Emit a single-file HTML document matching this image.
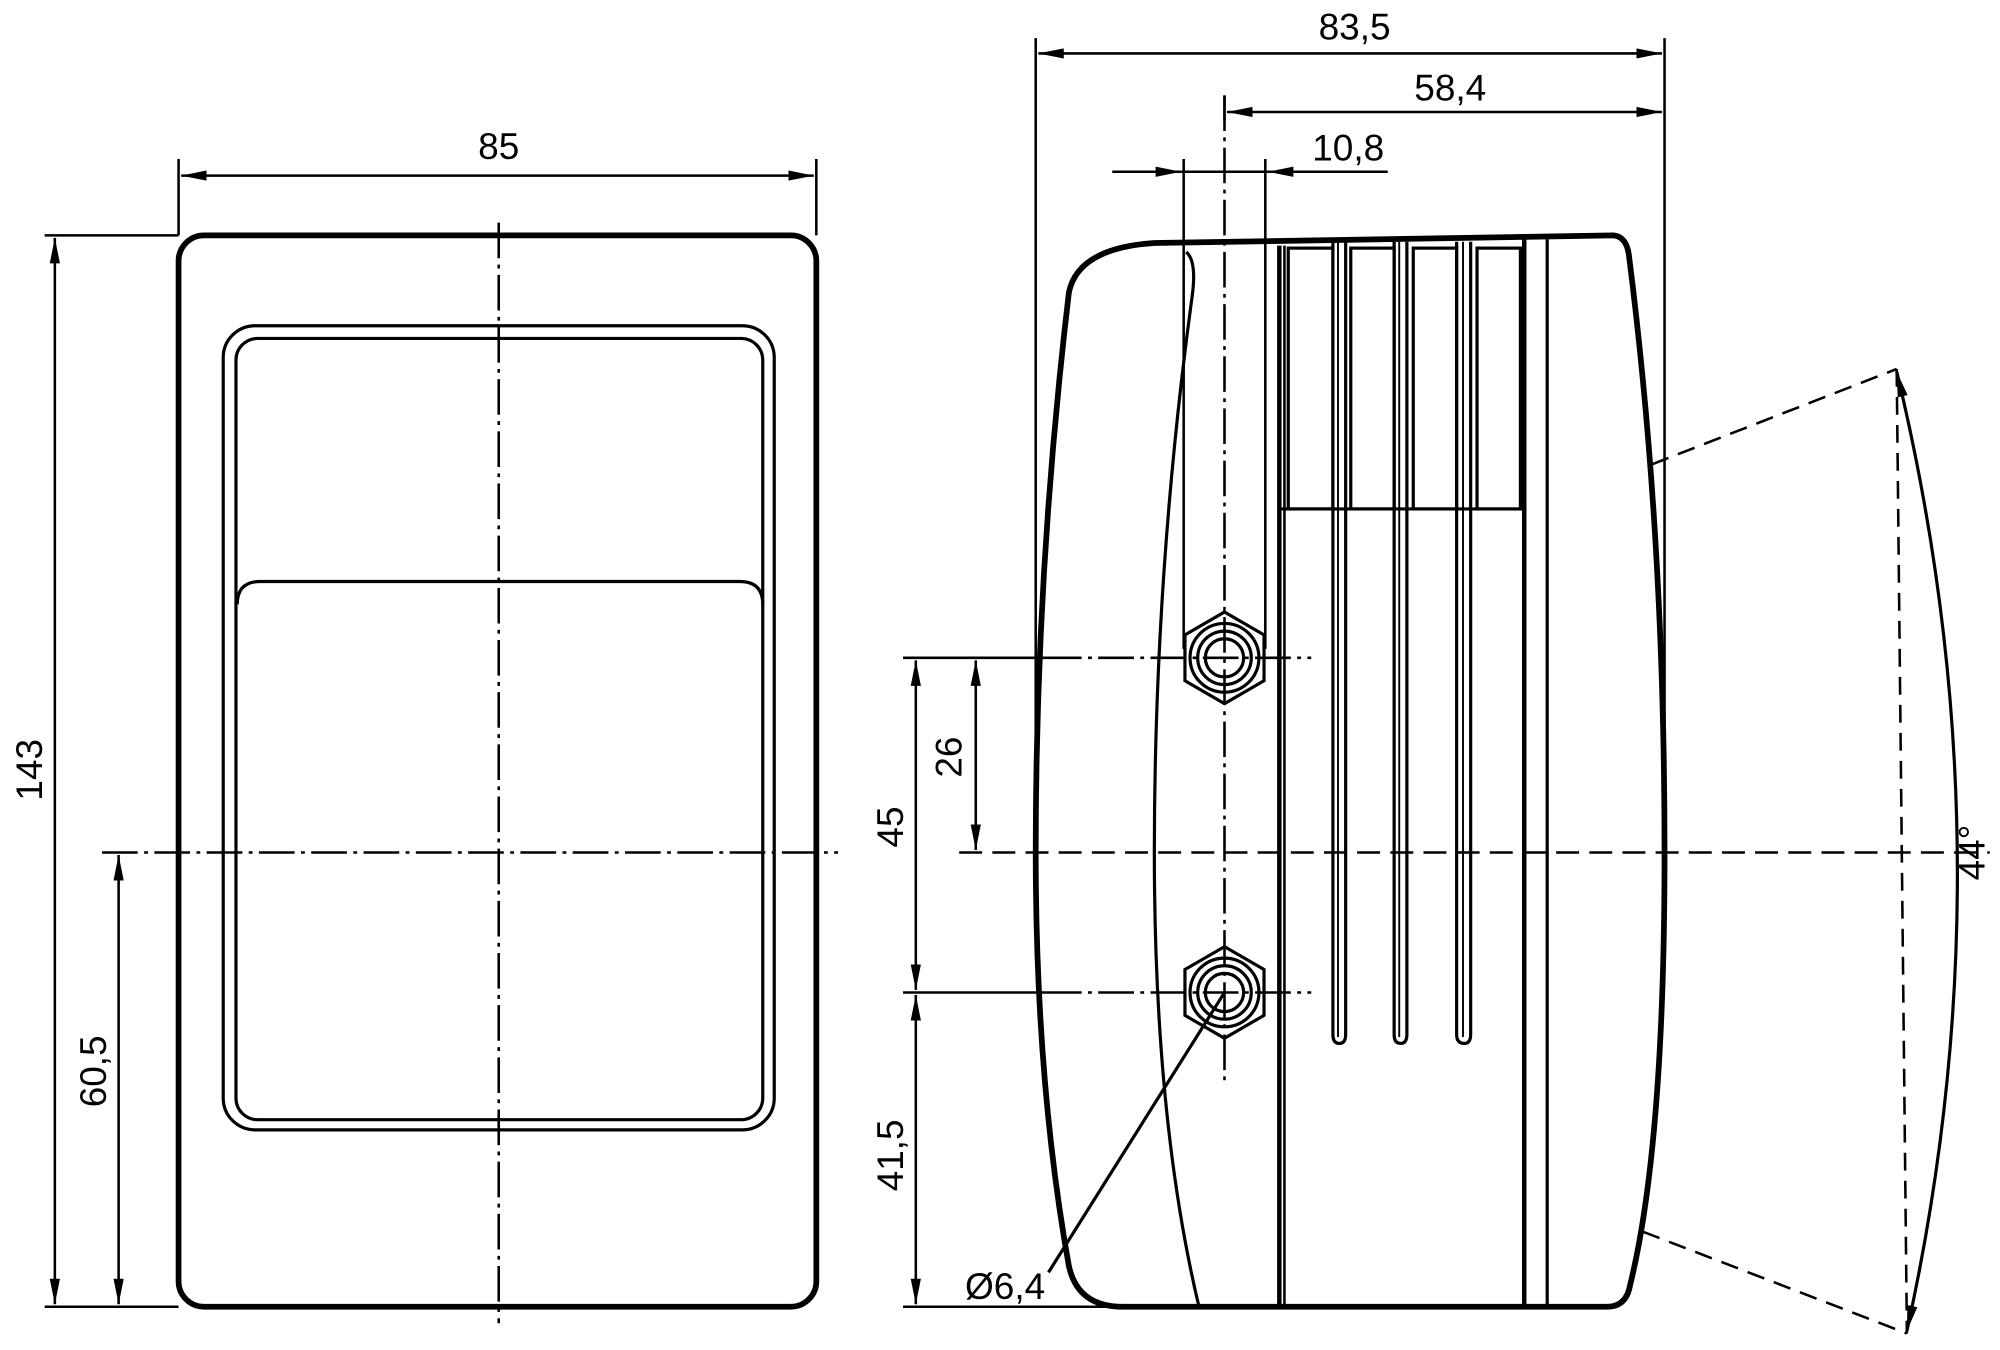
<!DOCTYPE html>
<html><head><meta charset="utf-8"><style>html,body{margin:0;padding:0;background:#fff}svg{display:block}</style></head><body>
<svg width="2000" height="1350" viewBox="0 0 1568 1061" preserveAspectRatio="none" xmlns="http://www.w3.org/2000/svg" font-family="Liberation Sans, Arial, sans-serif">
<defs>
<marker id="a" viewBox="0 0 20 8" refX="20" refY="4" markerWidth="20" markerHeight="8" markerUnits="userSpaceOnUse" orient="auto-start-reverse"><path d="M0,0 L20,4 L0,8 z" fill="#000"/></marker>
</defs>
<g fill="none" stroke="#000">
<!-- LEFT VIEW -->
<rect x="140" y="185" width="500" height="842" rx="20" stroke-width="4.5"/>
<rect x="175" y="256" width="432" height="632" rx="25" stroke-width="2.5"/>
<rect x="185" y="266" width="413" height="614" rx="17" stroke-width="2.5"/>
<path d="M186,475 Q186,457 204,457 L580,457 Q598,457 598,475" stroke-width="2.5"/>
<g stroke-width="2" stroke-dasharray="28,5,3,5">
<line x1="391" y1="175" x2="391" y2="1040"/>
<line x1="80" y1="670" x2="657" y2="670"/>
</g>
<g stroke-width="2">
<line x1="140" y1="125" x2="140" y2="185"/><line x1="640" y1="125" x2="640" y2="185"/>
<line x1="142" y1="138" x2="638" y2="138" marker-start="url(#a)" marker-end="url(#a)"/>
<line x1="35" y1="185" x2="140" y2="185"/><line x1="35" y1="1027" x2="140" y2="1027"/>
<line x1="43" y1="187" x2="43" y2="1025" marker-start="url(#a)" marker-end="url(#a)"/>
<line x1="93" y1="672" x2="93" y2="1025" marker-start="url(#a)" marker-end="url(#a)"/>
</g>
<!-- RIGHT VIEW body -->
<path d="M905,191 L1265,185 Q1275,186 1277,200 Q1305,420 1305,670 Q1305,900 1278,1010 Q1275,1027 1260,1027 L880,1027 Q845,1027 838,995 Q812,850 812,670 Q812,450 838,230 Q845,195 905,191 Z" stroke-width="4.5"/>
<path d="M930,198 Q938,205 935,230 Q905,450 905,670 Q905,880 940,1027" stroke-width="2.5"/>
<line x1="1003" y1="193" x2="1003" y2="1027" stroke-width="3.5"/>
<line x1="1007" y1="193" x2="1007" y2="1027" stroke-width="2"/>
<line x1="1213" y1="188" x2="1213" y2="1027" stroke-width="2.5"/>
<line x1="1195" y1="188" x2="1195" y2="1027" stroke-width="3.5"/>
<g stroke-width="2.5">
<rect x="1010" y="195" width="35" height="205"/>
<rect x="1059" y="195" width="34" height="205"/>
<rect x="1108" y="195" width="34" height="205"/>
<rect x="1158" y="195" width="34" height="205"/>
<line x1="1003" y1="400" x2="1195" y2="400"/>
<path d="M1045,190 L1045,813 Q1045,820 1050,820 Q1055,820 1055,813 L1055,190"/>
<path d="M1093,190 L1093,813 Q1093,820 1098,820 Q1103,820 1103,813 L1103,190"/>
<path d="M1142,190 L1142,813 Q1142,820 1148,820 Q1153,820 1153,813 L1153,190"/>
<path d="M1049,190 L1049,815 M1097,190 L1097,815 M1147,190 L1147,815" stroke-width="1.5"/>
</g>
<!-- nuts -->
<g stroke-width="2.5">
<polygon points="960,481 991,499 991,535 960,553 929,535 929,499"/>
<circle cx="960" cy="517" r="27"/><circle cx="960" cy="517" r="21"/><circle cx="960" cy="517" r="15"/>
<polygon points="960,744 991,762 991,798 960,816 929,798 929,762"/>
<circle cx="960" cy="780" r="27"/><circle cx="960" cy="780" r="21"/><circle cx="960" cy="780" r="15"/>
</g>
<g stroke-width="2" stroke-dasharray="28,5,3,5">
<line x1="960" y1="75" x2="960" y2="850"/>
<line x1="820" y1="517" x2="1028" y2="517"/>
<line x1="820" y1="780" x2="1028" y2="780"/>
<line x1="752" y1="670" x2="1560" y2="670" stroke-dasharray="18,8"/>
</g>
<!-- dims right -->
<g stroke-width="2">
<line x1="812" y1="30" x2="812" y2="670"/><line x1="1305" y1="30" x2="1305" y2="670"/>
<line x1="814" y1="42" x2="1303" y2="42" marker-start="url(#a)" marker-end="url(#a)"/>
<line x1="960" y1="75" x2="960" y2="95"/>
<line x1="962" y1="88" x2="1303" y2="88" marker-start="url(#a)" marker-end="url(#a)"/>
<line x1="928" y1="125" x2="928" y2="510"/><line x1="992" y1="125" x2="992" y2="510"/>
<line x1="872" y1="135" x2="926" y2="135" marker-end="url(#a)"/>
<line x1="1088" y1="135" x2="994" y2="135" marker-end="url(#a)"/>
<line x1="926" y1="135" x2="994" y2="135"/>
<line x1="708" y1="517" x2="820" y2="517"/><line x1="708" y1="780" x2="820" y2="780"/><line x1="708" y1="1027" x2="880" y2="1027"/>
<line x1="765" y1="519" x2="765" y2="668" marker-start="url(#a)" marker-end="url(#a)"/>
<line x1="718" y1="519" x2="718" y2="778" marker-start="url(#a)" marker-end="url(#a)"/>
<line x1="718" y1="782" x2="718" y2="1025" marker-start="url(#a)" marker-end="url(#a)"/>
<line x1="960" y1="780" x2="822" y2="1000" stroke-width="2.5"/>
<!-- angle -->
<g stroke-dasharray="14,8">
<line x1="1295" y1="365" x2="1487" y2="290"/>
<line x1="1288" y1="968" x2="1495" y2="1048"/>
<line x1="1487" y1="290" x2="1495" y2="1048"/>
</g>
<path d="M1487,292 Q1578,670 1495,1046" stroke-width="2.5" marker-start="url(#a)" marker-end="url(#a)"/>
</g>
</g>
<g font-size="29" fill="#000" text-anchor="middle">
<text x="391" y="125">85</text>
<text x="1062" y="31">83,5</text>
<text x="1137" y="79">58,4</text>
<text x="1057" y="126">10,8</text>
<text transform="translate(33,605) rotate(-90)">143</text>
<text transform="translate(83,842) rotate(-90)">60,5</text>
<text transform="translate(754,595) rotate(-90)">26</text>
<text transform="translate(708,650) rotate(-90)">45</text>
<text transform="translate(708,908) rotate(-90)">41,5</text>
<text transform="translate(1556,670) rotate(-90)">44°</text>
<text x="788" y="1021">Ø6,4</text>
</g>
</svg>
</body></html>
